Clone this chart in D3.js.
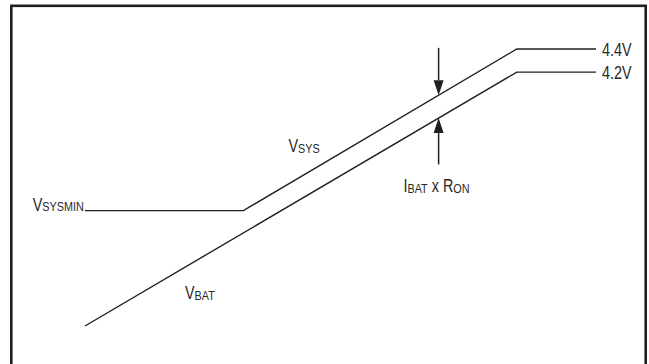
<!DOCTYPE html>
<html><head><meta charset="utf-8">
<script src="https://cdn.jsdelivr.net/npm/d3@7"></script>
<style>
body{margin:0;background:#fff}
svg{display:block}
text{font-family:"Liberation Sans",Arial,Helvetica,sans-serif;fill:#2a2627}
</style>
</head><body>
<svg id="c" width="649" height="364"></svg>
<script>
// conceptual time axis (arbitrary units) and voltages
const timeSys = [0, 3.1, 8.45, 10];
const vSys    = [3.0, 3.0, 4.4, 4.4];
const timeBat = [0, 8.45, 10];
const vBat    = [2.0, 4.2, 4.2];
const endLabels = ["4.4V", "4.2V"];
const arrowTime = 6.92;
const arrowTopV = 4.41;
const arrowBottomV = 3.4;

const svg = d3.select("#c");
const x = d3.scaleLinear().domain([0, 10]).range([85, 596]);
const y = d3.scaleLinear().domain([2.0, 4.4]).range([326, 49]);

// frame
svg.append("rect").attr("x", 11.3).attr("y", 5.8).attr("width", 634.4).attr("height", 400)
  .attr("fill", "none").attr("stroke", "#231f20").attr("stroke-width", 2.6);

const line = d3.line().x(d => x(d[0])).y(d => y(d[1]));
const sysPts = timeSys.map((t, i) => [t, vSys[i]]);
const batPts = timeBat.map((t, i) => [t, vBat[i]]);

svg.append("path").attr("d", line(sysPts)).attr("fill", "none")
  .attr("stroke", "#231f20").attr("stroke-width", 1.4);
svg.append("path").attr("d", line(batPts)).attr("fill", "none")
  .attr("stroke", "#231f20").attr("stroke-width", 1.4);

// interpolators along the curves
const sysAt = d3.scaleLinear().domain(timeSys).range(vSys);
const batAt = d3.scaleLinear().domain(timeBat).range(vBat);

function arrow(fromV, toV) {
  const ax = x(arrowTime);
  const y0 = y(fromV), y1 = y(toV);
  const dir = y1 > y0 ? 1 : -1;
  const headLen = 15, headW = 5;
  svg.append("line").attr("x1", ax).attr("x2", ax)
    .attr("y1", y0).attr("y2", y1 - dir * headLen)
    .attr("stroke", "#231f20").attr("stroke-width", 1.5);
  svg.append("path")
    .attr("d", `M${ax},${y1} L${ax - headW},${y1 - dir * headLen} L${ax + headW},${y1 - dir * headLen} Z`)
    .attr("fill", "#231f20");
}
arrow(arrowTopV, sysAt(arrowTime));
arrow(arrowBottomV, batAt(arrowTime));

// condensed labels with subscripts
const MAIN = 18, SUB = 13.5, SQUEEZE = 0.8;
function label(px, py, parts) {
  const t = svg.append("text")
    .attr("transform", `translate(${px},${py}) scale(${SQUEEZE},1)`);
  parts.forEach(p => {
    t.append("tspan").attr("font-size", p.sub ? SUB : MAIN)
      .attr("dy", p.dy || 0).text(p.t);
  });
  return t;
}
label(32.7, y(3.0), [{t: "V"}, {t: "SYSMIN", sub: true, dy: 0.5}]);
label(288.5, 152, [{t: "V"}, {t: "SYS", sub: true, dy: 0.5}]);
label(185, 299, [{t: "V"}, {t: "BAT", sub: true, dy: 0.5}]);
label(403.5, 192, [{t: "I"}, {t: "BAT", sub: true, dy: 0.5}, {t: " x R", dy: -0.5}, {t: "ON", sub: true, dy: 0.5}]);

endLabels.forEach((s, i) => {
  const v = i === 0 ? vSys[vSys.length - 1] : vBat[vBat.length - 1];
  label(x(10) + 6, y(v) + 6.5, [{t: s}]);
});
</script>
</body></html>
